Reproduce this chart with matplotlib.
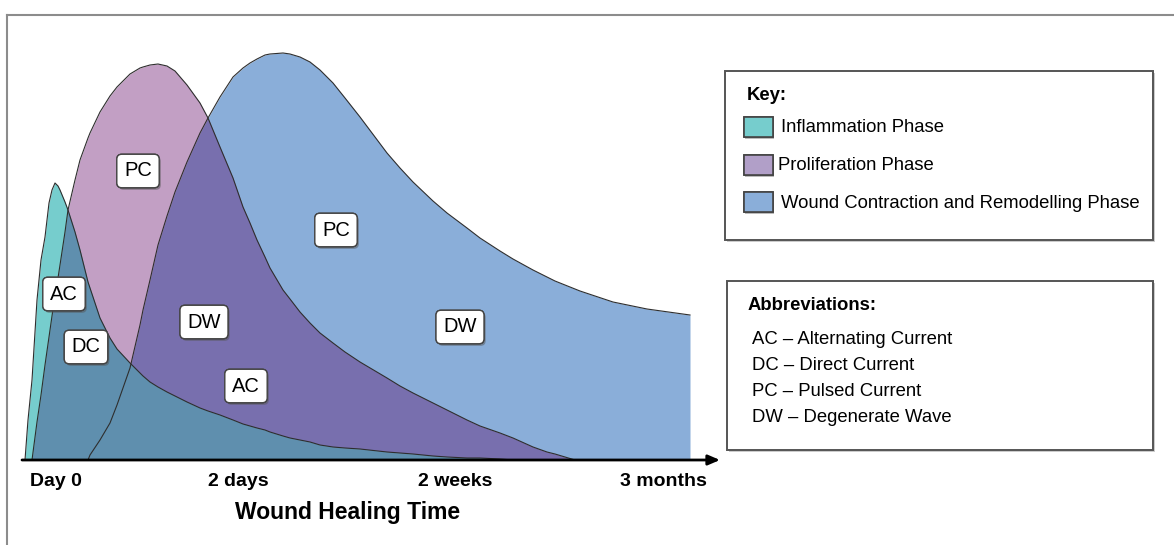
import matplotlib
matplotlib.use("Agg")
import matplotlib.pyplot as plt
import numpy as np
from matplotlib.patches import Rectangle
from matplotlib.lines import Line2D
import matplotlib.patheffects as pe

plt.rcParams['font.family'] = ['Liberation Sans', 'DejaVu Sans']

# ---- data (x: position along time axis, y: phase intensity) ----
x_pos = [3, 6, 10, 15, 19, 23, 27, 30, 33, 36,
         38, 43, 46, 53, 58, 66, 68, 78, 88, 95,
         108, 118, 121, 128, 136, 145, 153, 165, 178, 186,
         198, 211, 221, 228, 235, 243, 248, 261, 268, 278,
         288, 298, 311, 323, 338, 365, 378, 391, 411, 425,
         445, 458, 478, 491, 511, 525, 533, 553, 558, 591,
         625, 668]

inflammation = [0, 40, 80, 160, 200, 223, 257, 270, 277, 274,
                270, 258, 250, 228, 210, 178, 172, 142, 122, 111,
                97, 87, 84, 78, 73, 68, 64, 58, 52, 49,
                45, 40, 36, 34, 32, 30, 28, 24, 22, 20,
                18, 15, 13, 12, 11, 8, 7, 6, 4, 3,
                2, 2, 1, 0, 0, 0, 0, 0, 0, 0,
                0, 0]

proliferation = [0, 0, 0, 38, 65, 95, 123, 144, 165, 182,
                 195, 228, 250, 280, 300, 322, 327, 348, 364, 373,
                 386, 392, 393, 395, 396, 394, 389, 375, 357, 342,
                 313, 282, 253, 237, 220, 203, 192, 170, 161, 148,
                 137, 127, 117, 108, 98, 82, 74, 67, 57, 50,
                 40, 34, 27, 22, 13, 8, 6, 0, 0, 0,
                 0, 0]

remodelling = [0, 0, 0, 0, 0, 0, 0, 0, 0, 0,
               0, 0, 0, 0, 0, 0, 5, 20, 37, 55,
               92, 135, 150, 180, 215, 244, 268, 298, 327, 342,
               363, 383, 392, 397, 401, 405, 406, 407, 406, 403,
               398, 390, 377, 362, 343, 307, 292, 278, 259, 247,
               232, 222, 209, 201, 190, 183, 179, 171, 169, 158,
               151, 145]

tick_pos = [34, 216, 433, 641]
tick_labels = ["Day 0", "2 days", "2 weeks", "3 months"]

# label boxes on the chart
box_labels = ["PC", "AC", "DC", "DW", "AC", "PC", "DW"]
box_x = [116, 42, 64, 182, 224, 314, 438]
box_y = [289, 166, 113, 138, 74, 230, 133]

key_labels = ["Inflammation Phase", "Proliferation Phase",
              "Wound Contraction and Remodelling Phase"]
abbrev_lines = ["AC \u2013 Alternating Current", "DC \u2013 Direct Current",
                "PC \u2013 Pulsed Current", "DW \u2013 Degenerate Wave"]

# ---- colours ----
c_teal = '#76cdcd'
c_pink = '#c29fc4'
c_blue = '#8aaed9'
c_purple = '#786fae'
c_steel = '#5f8fae'
c_edge = '#2e2e2e'

W, H = 1174, 545
fig = plt.figure(figsize=(W / 100, H / 100), dpi=100)
fig.patch.set_facecolor('white')

def fx(px):
    return px / W

def fy(py):
    return 1 - py / H

ax = fig.add_axes([fx(22), fy(460), fx(720) - fx(22), fy(15) - fy(460)])
ax.set_xlim(0, 698)
ax.set_ylim(0, 445)
ax.axis('off')

x = np.array(x_pos, dtype=float)
infl = np.array(inflammation, dtype=float)
prol = np.array(proliferation, dtype=float)
remo = np.array(remodelling, dtype=float)

ax.fill_between(x, 0, remo, color=c_blue, lw=0)
ax.fill_between(x, 0, prol, color=c_pink, lw=0)
ax.fill_between(x, 0, np.minimum(prol, remo), color=c_purple, lw=0)
ax.fill_between(x, 0, infl, color=c_teal, lw=0)
ax.fill_between(x, 0, np.minimum(infl, np.maximum(prol, remo)), color=c_steel, lw=0)

for yy in (remo, prol, infl):
    ax.plot(x, yy, color=c_edge, lw=0.8, solid_joinstyle='round')

# x axis arrow
ax.annotate('', xy=(698, 0), xytext=(0, 0),
            arrowprops=dict(arrowstyle='-|>,head_length=0.7,head_width=0.3',
                            lw=2, color='black', shrinkA=0, shrinkB=0),
            annotation_clip=False)

for t, lab in zip(tick_pos, tick_labels):
    ax.text(t, -21, lab, ha='center', va='center', fontsize=14,
            fontweight='bold', clip_on=False)
ax.text(326, -52, "Wound Healing Time", ha='center', va='center',
        fontsize=16.5, fontweight='bold', clip_on=False)

for lab, bx, by in zip(box_labels, box_x, box_y):
    t = ax.text(bx, by, lab, ha='center', va='center', fontsize=14.5,
                bbox=dict(boxstyle='round,pad=0.36,rounding_size=0.25',
                          fc='white', ec='#444444', lw=1.0))
    t.get_bbox_patch().set_path_effects([
        pe.withSimplePatchShadow(offset=(1.2, -1.5), shadow_rgbFace='#555555', alpha=0.5),
        pe.Normal()])

# figure border
fig.add_artist(Line2D([fx(7), 1.0], [fy(15), fy(15)], transform=fig.transFigure,
                      color='#8c8c8c', lw=1.5))
fig.add_artist(Line2D([fx(7), fx(7)], [fy(15), 0.0], transform=fig.transFigure,
                      color='#8c8c8c', lw=1.5))

def panel(x0, y0, x1, y1):
    shadow = Rectangle((fx(x0) + fx(2), fy(y1) - 2 / H), fx(x1 - x0), fy(y0) - fy(y1),
                       transform=fig.transFigure, fc='#cccccc', ec='none')
    fig.add_artist(shadow)
    r = Rectangle((fx(x0), fy(y1)), fx(x1 - x0), fy(y0) - fy(y1),
                  transform=fig.transFigure, fc='white', ec='#555555', lw=1.4)
    fig.add_artist(r)

# Key panel
panel(725, 71, 1153, 240)
fig.text(fx(747), fy(96), "Key:", fontsize=13.3, fontweight='bold', va='center', ha='left')
sw_colors = [c_teal, '#b19fc8', c_blue]
sw_y = [127, 165, 202]
txt_x = [781, 778, 781]
for lab, col, yy, tx in zip(key_labels, sw_colors, sw_y, txt_x):
    s = Rectangle((fx(744), fy(yy + 10)), fx(29), 20 / H, transform=fig.transFigure,
                  fc=col, ec='#444444', lw=1.2)
    s.set_path_effects([pe.withSimplePatchShadow(offset=(1, -1.5), shadow_rgbFace='#555555', alpha=0.4),
                        pe.Normal()])
    fig.add_artist(s)
    fig.text(fx(tx), fy(yy + 1), lab, fontsize=13.3, va='center', ha='left')

# Abbreviations panel
panel(727, 281, 1153, 450)
fig.text(fx(748), fy(306), "Abbreviations:", fontsize=13.3, fontweight='bold', va='center', ha='left')
for i, line in enumerate(abbrev_lines):
    fig.text(fx(752), fy(340 + i * 25.7), line, fontsize=13.3, va='center', ha='left')

fig.savefig('out.png', dpi=100, facecolor='white')
